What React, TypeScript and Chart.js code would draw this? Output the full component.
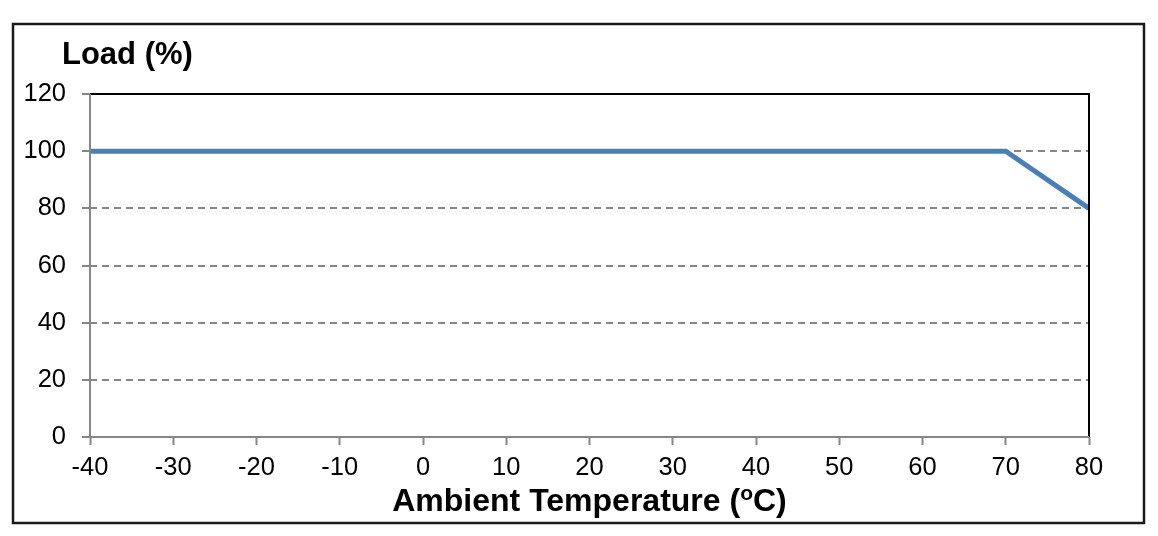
import React, { useEffect, useRef } from 'react'
import { Chart, ChartConfiguration, Plugin, registerables } from 'chart.js'

const temps = [-40, 70, 80]
const loads = [100, 100, 80]
const xTicks = [-40, -30, -20, -10, 0, 10, 20, 30, 40, 50, 60, 70, 80]
const yTicks = [0, 20, 40, 60, 80, 100, 120]
const yTitle = 'Load (%)'
const xTitleParts = ['Ambient Temperature (', 'o', 'C)']

const FONT = "'Liberation Sans', Arial, sans-serif"

// frame, outer box and the two titles
const framePlugin: Plugin = {
  id: 'frame',
  afterDraw(chart) {
    const { ctx, chartArea: a } = chart
    ctx.save()
    // outer box
    ctx.strokeStyle = '#1a1a1a'
    ctx.lineWidth = 2.5
    ctx.strokeRect(13, 24, 1131, 499)
    // top + right of plot
    ctx.strokeStyle = '#000'
    ctx.lineWidth = 2
    ctx.beginPath()
    ctx.moveTo(a.left, a.top)
    ctx.lineTo(a.right, a.top)
    ctx.lineTo(a.right, a.bottom)
    ctx.stroke()
    // axes
    ctx.strokeStyle = '#868686'
    ctx.beginPath()
    ctx.moveTo(a.left, a.top)
    ctx.lineTo(a.left, a.bottom)
    ctx.lineTo(a.right, a.bottom)
    ctx.stroke()

    ctx.fillStyle = '#000'
    ctx.textBaseline = 'alphabetic'
    ctx.font = `bold 31px ${FONT}`
    ctx.textAlign = 'left'
    ctx.fillText(yTitle, 62, 64)

    // x title with superscript o
    const big = `bold 32px ${FONT}`
    const small = `bold 21px ${FONT}`
    ctx.font = big
    const w1 = ctx.measureText(xTitleParts[0]).width
    const w3 = ctx.measureText(xTitleParts[2]).width
    ctx.font = small
    const w2 = ctx.measureText(xTitleParts[1]).width
    let x = (a.left + a.right) / 2 - (w1 + w2 + w3) / 2
    const y = 511
    ctx.font = big
    ctx.fillText(xTitleParts[0], x, y)
    x += w1
    ctx.font = small
    ctx.fillText(xTitleParts[1], x, y - 11)
    x += w2
    ctx.font = big
    ctx.fillText(xTitleParts[2], x, y)
    ctx.restore()
  },
}

const App = () => {
  const chartRef = useRef<HTMLCanvasElement>(null)

  useEffect(() => {
    Chart.register(...registerables)

    const config: ChartConfiguration = {
      type: 'line',
      data: {
        datasets: [
          {
            label: 'Load',
            data: temps.map((t, i) => ({ x: t, y: loads[i] })),
            borderColor: '#4a7ebb',
            borderWidth: 5,
            pointRadius: 0,
            tension: 0,
            fill: false,
          },
        ],
      },
      options: {
        animation: false,
        responsive: true,
        maintainAspectRatio: false,
        layout: { padding: { left: 0, right: 69, top: 94, bottom: 0 } },
        plugins: {
          legend: { display: false },
          tooltip: { enabled: false },
        },
        scales: {
          x: {
            type: 'linear',
            min: xTicks[0],
            max: xTicks[xTicks.length - 1],
            afterBuildTicks: (scale) => {
              scale.ticks = xTicks.map((v) => ({ value: v }))
            },
            afterFit: (scale) => {
              scale.height = 99
            },
            ticks: {
              color: '#000',
              font: { family: FONT, size: 25.5 },
              padding: 8,
              maxRotation: 0,
              autoSkip: false,
            },
            grid: {
              drawOnChartArea: false,
              drawTicks: true,
              tickLength: 8,
              tickColor: '#868686',
              tickWidth: 2,
            },
            border: { display: false },
          },
          y: {
            min: yTicks[0],
            max: yTicks[yTicks.length - 1],
            afterBuildTicks: (scale) => {
              scale.ticks = yTicks.map((v) => ({ value: v }))
            },
            afterFit: (scale) => {
              scale.width = 90
            },
            ticks: {
              color: '#000',
              font: { family: FONT, size: 25.5 },
              padding: 16,
              autoSkip: false,
            },
            grid: {
              color: (c) =>
                c.tick && (c.tick.value === 0 || c.tick.value === 120) ? 'rgba(0,0,0,0)' : '#868686',
              lineWidth: 2,
              tickLength: 8,
              tickColor: '#868686',
              tickWidth: 2,
              tickBorderDash: [],
            },
            border: { display: false, dash: [7, 5] },
          },
        },
      },
      plugins: [framePlugin],
    }

    const chart = new Chart(chartRef.current!, config)
    return () => {
      chart.destroy()
    }
  }, [])

  return (
    <div style={{ position: 'fixed', left: 0, top: 0, width: 1158, height: 536, background: '#fff' }}>
      <canvas ref={chartRef}></canvas>
    </div>
  )
}

export default App
